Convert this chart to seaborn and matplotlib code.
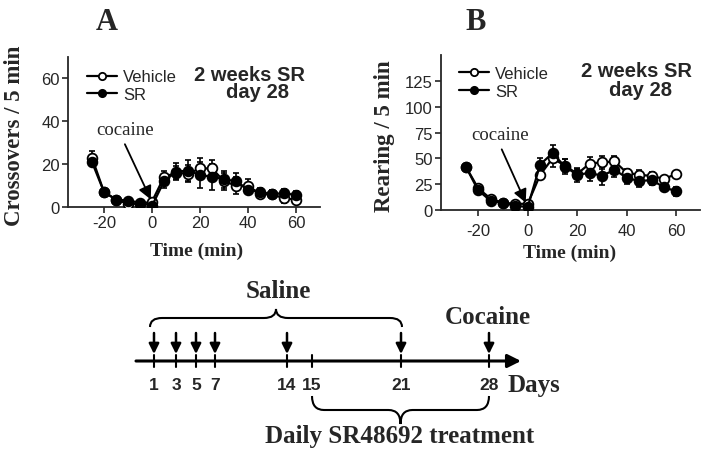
import matplotlib
matplotlib.use("Agg")
import seaborn as sns
from matplotlib import pyplot as plt
from matplotlib.path import Path
from matplotlib.patches import PathPatch

# Time points (min), relative to the cocaine injection
time_min = [-25, -20, -15, -10, -5, 0, 5, 10, 15, 20, 25, 30, 35, 40, 45, 50, 55, 60]

# Panel A: crossovers / 5 min
cross_vehicle = [23, 7, 3.5, 1.5, 1.5, 2.5, 14, 16, 15.5, 18, 18, 12, 10, 10, 6, 6, 4, 3.5]
cross_vehicle_err = [3, 1, 0.5, 0.5, 0.5, 1, 3, 3, 4, 5, 4, 4, 4, 3, 2, 2, 2, 1.5]
cross_sr = [21, 7, 3.5, 3, 2, 0.5, 12, 16.5, 17, 15, 14, 13, 12, 8, 7, 6, 6.5, 5.5]
cross_sr_err = [2, 1, 0.5, 0.5, 0.5, 0.5, 3, 4, 5, 6, 6, 4, 4, 2, 2, 2, 2, 2]

# Panel B: rearing / 5 min
rear_vehicle = [42, 21, 11, 7, 6, 6, 34, 50, 43, 35, 45, 46, 47, 36, 34, 33, 30, 35]
rear_vehicle_err = [3, 2, 2, 1, 1, 2, 4, 8, 6, 5, 6, 6, 5, 4, 5, 4, 3, 3]
rear_sr = [42, 19, 9, 7, 4, 3, 44, 55, 42, 34, 36, 33, 39, 31, 28, 29, 22, 18]
rear_sr_err = [3, 2, 2, 2, 1, 1, 6, 8, 7, 7, 8, 9, 7, 6, 6, 5, 4, 4]

# Treatment schedule (days) and where each sits on the drawn timeline (pixels)
schedule_days = [1, 3, 5, 7, 14, 15, 21, 28]
schedule_pos = [154, 176, 196, 215, 287, 312, 401, 489]
injection_days = [1, 3, 5, 7, 14, 21, 28]

sns.set_style("ticks")
plt.rcParams["font.family"] = ["Liberation Sans", "DejaVu Sans"]
plt.rcParams["axes.unicode_minus"] = False
SERIF = ["Liberation Serif", "DejaVu Serif"]

fig = plt.figure(figsize=(7.08, 4.56), dpi=100)

# overlay in pixel coordinates for the schematic and panel letters
bg = fig.add_axes([0, 0, 1, 1])
bg.set_xlim(0, 708)
bg.set_ylim(456, 0)
bg.axis("off")

axA = fig.add_axes([68 / 708, 1 - 208 / 456, 252 / 708, 150 / 456])
axB = fig.add_axes([441 / 708, 1 - 211 / 456, 259 / 708, 155 / 456])


def draw_panel(ax, veh, veh_err, sr, sr_err, leg_xy):
    for name, y, err, face in [("Vehicle", veh, veh_err, "white"), ("SR", sr, sr_err, "black")]:
        ax.errorbar(time_min, y, yerr=err, fmt="none", ecolor="black",
                    elinewidth=1.2, capsize=2.5, capthick=1.2, zorder=2)
        sns.lineplot(x=time_min, y=y, ax=ax, color="black", marker="o",
                     markersize=7, markerfacecolor=face, markeredgecolor="black",
                     markeredgewidth=1.3, linewidth=1.6, label=name, zorder=3)
    sns.despine(ax=ax)
    ax.tick_params(direction="out", length=4, width=1.2, labelsize=12, pad=2)
    for s in ax.spines.values():
        s.set_linewidth(1.3)
    ax.set_xlim(-35, 70)
    ax.set_xticks([-20, 0, 20, 40, 60])
    ax.set_xlabel("Time (min)", fontsize=14, fontweight="bold", family=SERIF)
    ax.legend(loc="upper left", bbox_to_anchor=leg_xy, frameon=False, fontsize=12,
              handlelength=1.8, handletextpad=0.35, labelspacing=0.15, borderpad=0.2,
              borderaxespad=0, markerscale=0.75)


draw_panel(axA, cross_vehicle, cross_vehicle_err, cross_sr, cross_sr_err, (0.063, 0.94))
axA.set_ylim(0, 70)
axA.set_yticks([0, 20, 40, 60])
axA.set_ylabel("Crossovers / 5 min", fontsize=16.5, fontweight="bold", family=SERIF)
axA.yaxis.set_label_coords(-0.17, 0.48)
axA.xaxis.set_label_coords(0.51, -0.233)
axA.text(0.72, 0.885, "2 weeks SR", transform=axA.transAxes, ha="center", va="center",
         fontsize=14.5, fontweight="bold")
axA.text(0.75, 0.77, "day 28", transform=axA.transAxes, ha="center", va="center",
         fontsize=14.5, fontweight="bold")
axA.text(-11.3, 36.3, "cocaine", ha="center", va="center", fontsize=13.5, family=SERIF)
axA.annotate("", xy=(-0.5, 3.5), xytext=(-11.3, 29.3),
             arrowprops=dict(arrowstyle="-|>", color="black", lw=1.3, mutation_scale=20,
                             shrinkA=0, shrinkB=0))

draw_panel(axB, rear_vehicle, rear_vehicle_err, rear_sr, rear_sr_err, (0.058, 0.95))
axB.set_xlim(-35, 69.5)
axB.set_ylim(0, 150)
axB.set_yticks([0, 25, 50, 75, 100, 125])
axB.set_ylabel("Rearing / 5 min", fontsize=16.5, fontweight="bold", family=SERIF)
axB.yaxis.set_label_coords(-0.178, 0.484)
axB.xaxis.set_label_coords(0.496, -0.22)
axB.tick_params(axis="x", pad=5)
axB.text(0.756, 0.897, "2 weeks SR", transform=axB.transAxes, ha="center", va="center",
         fontsize=14.5, fontweight="bold")
axB.text(0.77, 0.78, "day 28", transform=axB.transAxes, ha="center", va="center",
         fontsize=14.5, fontweight="bold")
axB.text(-11, 73, "cocaine", ha="center", va="center", fontsize=13.5, family=SERIF)
axB.annotate("", xy=(-0.8, 7), xytext=(-10.5, 58.7),
             arrowprops=dict(arrowstyle="-|>", color="black", lw=1.3, mutation_scale=20,
                             shrinkA=0, shrinkB=0))

# panel letters
bg.text(107, 23, "A", ha="center", va="center", fontsize=22, fontweight="bold", family=SERIF)
bg.text(476, 23, "B", ha="center", va="center", fontsize=22, fontweight="bold", family=SERIF)


def brace(ax, x0, x1, y, h):
    # curly brace from x0 to x1 at height y; tip offset h (negative = upwards)
    xm = (x0 + x1) / 2
    q = 12
    verts = [(x0, y), (x0, y + h * 0.5), (x0 + q, y + h * 0.5),
             (xm - q, y + h * 0.5), (xm, y + h * 0.5), (xm, y + h),
             (xm, y + h * 0.5), (xm + q, y + h * 0.5),
             (x1 - q, y + h * 0.5), (x1, y + h * 0.5), (x1, y)]
    codes = [Path.MOVETO, Path.CURVE3, Path.CURVE3,
             Path.LINETO, Path.CURVE3, Path.CURVE3,
             Path.CURVE3, Path.CURVE3,
             Path.LINETO, Path.CURVE3, Path.CURVE3]
    ax.add_patch(PathPatch(Path(verts, codes), facecolor="none", edgecolor="black", lw=1.5))


# timeline
line_y = 362
bg.annotate("", xy=(521, line_y), xytext=(136, line_y),
            arrowprops=dict(arrowstyle="-|>", color="black", lw=2.2, mutation_scale=20,
                            shrinkA=0, shrinkB=0))
for d, p in zip(schedule_days, schedule_pos):
    bg.plot([p, p], [line_y - 6, line_y + 6], color="black", lw=1.5)
    bg.text(p, 386, str(d), ha="center", va="center", fontsize=12.5, fontweight="bold")
    if d in injection_days:
        bg.annotate("", xy=(p, 355), xytext=(p, 334),
                    arrowprops=dict(arrowstyle="-|>", color="black", lw=1.8, mutation_scale=15,
                                    shrinkA=0, shrinkB=0))
bg.text(508, 386, "Days", ha="left", va="center", fontsize=18, fontweight="bold", family=SERIF)

brace(bg, 150, 402, 328, -18)
bg.text(278, 292, "Saline", ha="center", va="center", fontsize=18, fontweight="bold", family=SERIF)
bg.text(488, 318, "Cocaine", ha="center", va="center", fontsize=18, fontweight="bold", family=SERIF)

brace(bg, 312, 489, 397, 28)
bg.text(400, 437, "Daily SR48692 treatment", ha="center", va="center", fontsize=18,
        fontweight="bold", family=SERIF)

fig.savefig("out.png", dpi=100)
